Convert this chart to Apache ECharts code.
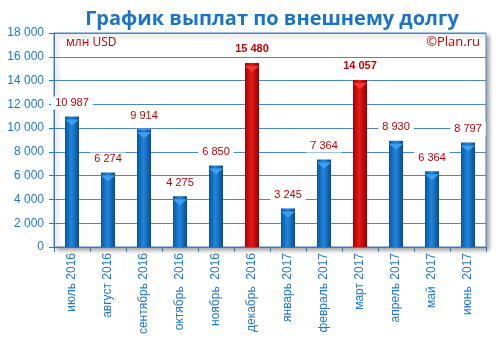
<!DOCTYPE html>
<html><head><meta charset="utf-8">
<script src="https://cdn.jsdelivr.net/npm/echarts@6/dist/echarts.min.js"></script>
<style>html,body{margin:0;padding:0;background:#fff}#c{width:499px;height:345px}</style>
</head><body><div id="c"></div>
<script>
const categories = ['июль 2016','август 2016','сентябрь 2016','октябрь  2016','ноябрь  2016','декабрь  2016','январь 2017','февраль 2017','март 2017','апрель 2017','май  2017','июнь  2017'];
const values = [10987, 6274, 9914, 4275, 6850, 15480, 3245, 7364, 14057, 8930, 6364, 8797];
const highlighted = [false,false,false,false,false,true,false,false,true,false,false,false];

function fmt(v){return String(v).replace(/\B(?=(\d{3})+(?!\d))/g,' ');}
const blueGrad = {type:'linear',x:0,y:0,x2:1,y2:0,colorStops:[{offset:0,color:'#0a55a0'},{offset:0.45,color:'#1e86dc'},{offset:0.6,color:'#1a78cc'},{offset:1,color:'#0a4c90'}]};
const redGrad = {type:'linear',x:0,y:0,x2:1,y2:0,colorStops:[{offset:0,color:'#a80000'},{offset:0.45,color:'#e41c1c'},{offset:0.6,color:'#d41010'},{offset:1,color:'#960000'}]};

const chart = echarts.init(document.getElementById('c'));
chart.setOption({
  animation:false,
  title:{text:'График выплат по внешнему долгу',left:267,textAlign:'center',top:4,
    textStyle:{fontFamily:'Open Sans',fontWeight:'bold',fontSize:20,color:'#1a74c6'}},
  graphic:[
    {type:'text',left:66,top:37,z:10,style:{text:'млн USD',fontFamily:'Open Sans',fontSize:12,fill:'#c00000'}},
    {type:'text',right:19,top:36,z:10,style:{text:'©Plan.ru',fontFamily:'Open Sans',fontSize:13,fill:'#c00000'}}
  ],
  grid:{left:54,right:13,top:33,bottom:98,show:true,backgroundColor:'#fff',borderColor:'#4a86c8',borderWidth:1,
    shadowColor:'rgba(0,0,0,0.35)',shadowBlur:4,shadowOffsetX:3,shadowOffsetY:3},
  xAxis:{type:'category',data:categories,
    axisLine:{lineStyle:{color:'#2a7ad0',width:1}},
    axisTick:{show:true,length:5,lineStyle:{color:'#2a7ad0'}},
    axisLabel:{rotate:90,fontFamily:'Liberation Sans',fontSize:12,color:'#1a78d0',margin:6,interval:0}},
  yAxis:{type:'value',min:0,max:18000,interval:2000,
    axisLine:{show:true,lineStyle:{color:'#2a7ad0'}},
    axisTick:{show:true,length:5,lineStyle:{color:'#2a7ad0'}},
    splitLine:{lineStyle:{color:'#4a86c8',width:1}},
    axisLabel:{fontFamily:'Liberation Sans',fontSize:12,color:'#1a78d0',margin:10,formatter:v=>fmt(v)}},
  series:[
    {type:'bar',barWidth:14,z:2,
     data:values.map((v,i)=>({value:v,itemStyle:{color:highlighted[i]?redGrad:blueGrad},
       label:{fontWeight:highlighted[i]?'bold':'normal'}})),
     label:{show:true,position:'top',distance:7,formatter:p=>fmt(p.value),fontFamily:'Liberation Sans',fontSize:11,color:'#c00000',
       backgroundColor:'#fff',padding:[1,4]}},
    {type:'pictorialBar',symbol:'path://M0,0 L10,0 L5,5 Z',symbolSize:[14,6],symbolPosition:'end',symbolOffset:[0,'50%'],z:3,
     data:values.map((v,i)=>({value:v,itemStyle:{color:highlighted[i]?'#f03a3a':'#3aa0f0'}})),silent:true}
  ]
});
</script></body></html>
